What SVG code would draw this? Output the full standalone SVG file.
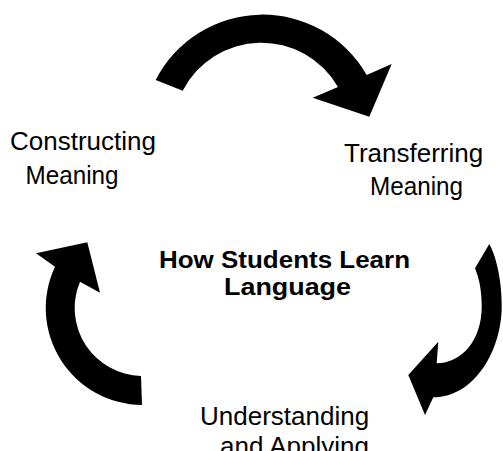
<svg xmlns="http://www.w3.org/2000/svg" width="503" height="451" viewBox="0 0 503 451">
<style>
.lbl{font-family:"Liberation Sans",Arial,sans-serif;font-size:26px;fill:#000}
.ttl{font-family:"Liberation Sans",Arial,sans-serif;font-size:23.5px;font-weight:bold;fill:#000}
.arr{fill:#000;stroke:none}
</style>
<rect width="503" height="451" fill="#fff"/>
<g id="connectors">
<path class="arr" d="M 155.7 80 A 120 120 0 0 1 366.7 75 L 391.7 64 L 369.3 116.7 L 312.7 97.7 L 338 87 A 88.4 88.4 0 0 0 182.7 90.7 Z"/>
<path class="arr" d="M 489.3 244 C 497 258 502 283 501.7 306.7 C 501.4 350 475 397 433.3 397.3 L 425 415 L 408.3 375 L 438.3 341.7 L 436.7 363.3 C 462 363 481.7 340 481.7 306.7 C 481.7 290 479 278 475 268.3 Z"/>
<path class="arr" d="M 142 405 A 97 97 0 0 1 55 266.7 L 36 253.3 L 87.3 242.3 L 100 292.7 L 80 281.7 A 68 68 0 0 0 141 376 Z"/>
</g>
<g id="constructing">
<text class="lbl" x="10" y="150">Constructing</text>
<text class="lbl" x="25.5" y="184" textLength="93" lengthAdjust="spacingAndGlyphs">Meaning</text>
</g>
<g id="transferring">
<text class="lbl" x="344" y="162">Transferring</text>
<text class="lbl" x="370" y="195" textLength="93" lengthAdjust="spacingAndGlyphs">Meaning</text>
</g>
<g id="center">
<text class="ttl" x="159" y="268" textLength="251" lengthAdjust="spacingAndGlyphs">How Students Learn</text>
<text class="ttl" x="224" y="295" textLength="127" lengthAdjust="spacingAndGlyphs">Language</text>
</g>
<g id="understanding">
<text class="lbl" x="200" y="425">Understanding</text>
<text class="lbl" x="220" y="455">and Applying</text>
</g>
</svg>
